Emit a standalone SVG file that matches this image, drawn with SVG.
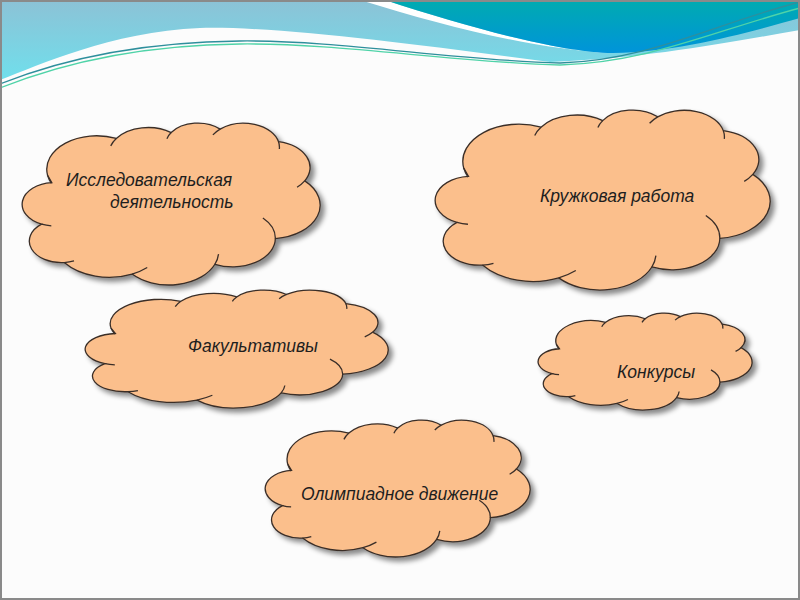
<svg xmlns="http://www.w3.org/2000/svg" xmlns:xlink="http://www.w3.org/1999/xlink" width="800" height="600" viewBox="0 0 800 600">
<style>
.cl{fill:#fbbf8c;stroke:#3a2e28;stroke-width:1.3;vector-effect:non-scaling-stroke}
.cr{fill:none;stroke:#3a2e28;stroke-width:1.3;vector-effect:non-scaling-stroke}
.t{font-family:"Liberation Sans",Arial,sans-serif;font-style:italic;font-size:17.5px;fill:#1e1e1e}
.ln{fill:none;stroke-width:1.3}
</style>
<defs>
<linearGradient id="gl" x1="0" y1="0" x2="0" y2="1">
<stop offset="0" stop-color="#8cc2d6"/>
<stop offset="1" stop-color="#70dfec"/>
</linearGradient>
<linearGradient id="gd" x1="0" y1="0" x2="0" y2="1">
<stop offset="0" stop-color="#00abb0"/>
<stop offset="1" stop-color="#0094da"/>
</linearGradient>
<filter id="sh" x="-10%" y="-10%" width="130%" height="140%">
<feDropShadow dx="4" dy="4" stdDeviation="2.8" flood-color="#000" flood-opacity="0.45"/>
</filter>
<path id="cloud" class="cl" vector-effect="non-scaling-stroke" d="M9.03,33.26 A15.63,21.27 0 0 1 30.58,9.85 A12.34,16.82 0 0 1 47.81,6.08 A10.10,13.76 0 0 1 63.17,3.90 A11.24,15.27 0 0 1 81.47,11.80 A12.34,16.84 0 0 1 89.71,36.81 A15.68,21.34 0 0 1 80.50,73.46 A13.39,18.21 0 0 1 61.53,89.81 A15.63,21.33 0 0 1 35.54,96.04 A17.87,24.41 0 0 1 14.26,88.74 A10.09,13.70 0 0 1 7.15,64.32 A10.06,13.76 0 0 1 10.35,37.95 Z"/>
<path id="creases" class="cr" vector-effect="non-scaling-stroke" d="M30.58,9.85 A12.34,16.82 0 0 0 28.84,14.55 M47.81,6.08 A10.10,13.76 0 0 0 46.47,9.97 M63.17,3.90 A11.24,15.27 0 0 0 60.90,7.57 M81.47,11.80 A11.24,15.27 0 0 1 81.75,16.50 M89.71,36.81 A12.34,16.84 0 0 1 87.31,40.82 M80.50,73.46 A13.39,18.21 0 0 0 76.58,60.38 M61.53,89.81 A15.63,21.33 0 0 0 62.66,83.32 M35.54,96.04 A17.87,24.41 0 0 0 40.30,91.84 M14.26,88.74 A10.09,13.70 0 0 0 17.32,87.71 M7.15,64.32 A10.06,13.76 0 0 0 10.20,65.37 M9.03,33.26 A15.63,21.27 0 0 0 10.23,38.38"/>
</defs>
<rect width="800" height="600" fill="#fcfcfc"/>
<g id="header">
<path d="M0,0 H800 V30 C730,42 650,58 550,62 C420,45 280,26 200,28 C110,32 40,65 0,80 Z" fill="url(#gl)"/>
<path d="M360,0 L385,0 C470,28 560,52 613,53 C540,50 450,28 360,0 Z" fill="#ffffff"/>
<path d="M385,0 L800,0 L800,18 C750,32 680,52 613,53 C560,52 470,28 385,0 Z" fill="url(#gd)"/>
<path class="ln" d="M0,84 C60,60 140,42 240,41 C340,40 450,60 560,63 C650,60 710,25 800,2" stroke="#2e8f9c"/>
<path class="ln" d="M0,88 C60,64 140,45 240,44 C340,43 450,62 560,65 C650,62 710,32 800,8" stroke="#4fd3a8"/>
</g>
<g id="n1">
<g filter="url(#sh)"><use href="#cloud" transform="translate(18.81,123) scale(3.187,1.573)"/></g>
<use href="#creases" transform="translate(18.81,123) scale(3.187,1.573)"/>
<text class="t" x="66" y="186">Исследовательская</text>
<text class="t" x="110" y="208">деятельность</text>
</g>
<g id="n2">
<g filter="url(#sh)"><use href="#cloud" transform="translate(81.76,290) scale(3.241,1.146)"/></g>
<use href="#creases" transform="translate(81.76,290) scale(3.241,1.146)"/>
<text class="t" x="188" y="352">Факультативы</text>
</g>
<g id="n3">
<g filter="url(#sh)"><use href="#cloud" transform="translate(431.4,110) scale(3.583,1.748)"/></g>
<use href="#creases" transform="translate(431.4,110) scale(3.583,1.748)"/>
<text class="t" x="540" y="202">Кружковая работа</text>
</g>
<g id="n4">
<g filter="url(#sh)"><use href="#cloud" transform="translate(535.7,313) scale(2.289,0.942)"/></g>
<use href="#creases" transform="translate(535.7,313) scale(2.289,0.942)"/>
<text class="t" x="617" y="378">Конкурсы</text>
</g>
<g id="n5">
<g filter="url(#sh)"><use href="#cloud" transform="translate(262.2,420) scale(2.834,1.330)"/></g>
<use href="#creases" transform="translate(262.2,420) scale(2.834,1.330)"/>
<text class="t" x="301" y="500">Олимпиадное движение</text>
</g>
<rect x="1" y="1" width="798" height="598" fill="none" stroke="#8a8a8a" stroke-width="2"/>
</svg>
